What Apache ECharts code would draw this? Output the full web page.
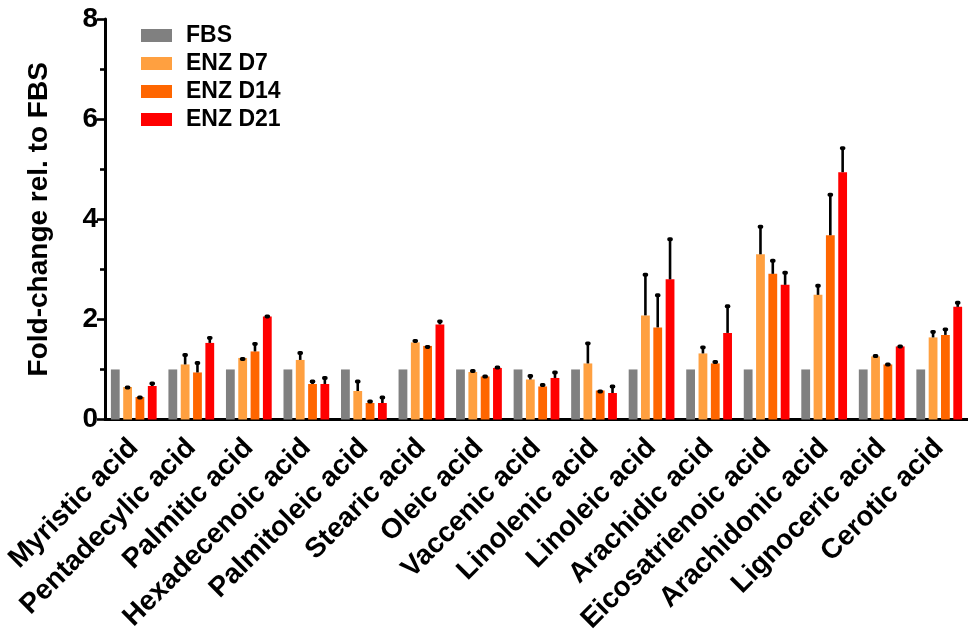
<!DOCTYPE html>
<html>
<head>
<meta charset="utf-8">
<script src="https://cdn.jsdelivr.net/npm/echarts@6/dist/echarts.min.js"></script>
<style>html,body{margin:0;padding:0;background:#fff;}#c{width:968px;height:636px;}</style>
</head>
<body>
<div id="c"></div>
<script>
var categories = ['Myristic acid','Pentadecylic acid','Palmitic acid','Hexadecenoic acid','Palmitoleic acid','Stearic acid','Oleic acid','Vaccenic acid','Linolenic acid','Linoleic acid','Arachidic acid','Eicosatrienoic acid','Arachidonic acid','Lignoceric acid','Cerotic acid'];
var seriesNames = ['FBS','ENZ D7','ENZ D14','ENZ D21'];
var fbs    = [1,1,1,1,1,1,1,1,1,1,1,1,1,1,1];
var d7     = [0.65,1.10,1.23,1.19,0.57,1.54,0.95,0.80,1.12,2.08,1.32,3.30,2.49,1.26,1.64];
var d7err  = [0.03,0.23,0.02,0.18,0.23,0.07,0.06,0.11,0.44,0.85,0.16,0.59,0.22,0.05,0.15];
var d14    = [0.45,0.94,1.36,0.71,0.33,1.47,0.86,0.66,0.58,1.84,1.12,2.91,3.68,1.10,1.69];
var d14err = [0.03,0.23,0.19,0.09,0.07,0.02,0.04,0.07,0.02,0.68,0.07,0.30,0.85,0.04,0.15];
var d21    = [0.67,1.53,2.06,0.71,0.33,1.90,1.03,0.83,0.53,2.80,1.73,2.69,4.94,1.46,2.25];
var d21err = [0.09,0.14,0.04,0.16,0.15,0.10,0.05,0.15,0.17,0.84,0.57,0.28,0.52,0.04,0.12];
var yTicks = [0,2,4,6,8];

var colors = ['#808080','#FFA040','#FF6600','#FF0000'];
var FONT = '"Liberation Sans", Arial, Helvetica, sans-serif';
var BAR_W = 8.8, GAP = 0.4;
var PITCH = BAR_W * (1 + GAP);

function errSeries(means, errs, pos) {
  var data = means.map(function (m, i) { return [i, m, errs[i]]; });
  var offset = (pos - 1.5) * PITCH;
  return {
    type: 'custom',
    silent: true,
    z: 5,
    data: data,
    renderItem: function (params, api) {
      var idx = api.value(0), mean = api.value(1), err = api.value(2);
      var base = api.coord([idx, mean]);
      var top = api.coord([idx, mean + err]);
      var x = base[0] + offset;
      return {
        type: 'group',
        children: [
          { type: 'line', shape: { x1: x, y1: base[1], x2: x, y2: top[1] + 1 }, style: { stroke: '#000', lineWidth: 2.6 } },
          { type: 'rect', shape: { x: x - 2.8, y: top[1], width: 5.6, height: 4, r: 1.8 }, style: { fill: '#000' } }
        ]
      };
    }
  };
}

var chart = echarts.init(document.getElementById('c'), null, { renderer: 'canvas' });
var option = {
  animation: false,
  backgroundColor: '#fff',
  grid: { left: 105, right: -8, top: 19, bottom: 214.5, containLabel: false },
  legend: {
    orient: 'vertical',
    left: 136, top: 19,
    itemWidth: 31, itemHeight: 13, itemGap: 5,
    icon: 'rect',
    data: seriesNames,
    textStyle: { fontFamily: FONT, fontWeight: 'bold', fontSize: 23, lineHeight: 23, color: '#000', padding: [0, 0, 0, 9] }
  },
  xAxis: {
    type: 'category',
    data: categories,
    axisLine: { lineStyle: { color: '#000', width: 3 } },
    axisTick: { alignWithLabel: true, length: 8, lineStyle: { color: '#000', width: 2.6 } },
    axisLabel: { rotate: 45, interval: 0, fontFamily: FONT, fontWeight: 'bold', fontSize: 28, color: '#000', margin: 24 }
  },
  yAxis: {
    type: 'value',
    min: yTicks[0], max: yTicks[yTicks.length - 1], interval: 2,
    name: 'Fold-change rel. to FBS',
    nameLocation: 'middle',
    nameGap: 52,
    nameTextStyle: { fontFamily: FONT, fontWeight: 'bold', fontSize: 28, color: '#000' },
    axisLine: { show: true, lineStyle: { color: '#000', width: 3 } },
    axisTick: { show: true, length: 8, lineStyle: { color: '#000', width: 2.6 } },
    minorTick: { show: true, splitNumber: 2, length: 5, lineStyle: { color: '#000', width: 2.6 } },
    splitLine: { show: false },
    axisLabel: { fontFamily: FONT, fontWeight: 'bold', fontSize: 28, color: '#000', margin: 7 }
  },
  series: [
    { name: seriesNames[0], type: 'bar', data: fbs, barWidth: BAR_W, barGap: (GAP * 100) + '%', itemStyle: { color: colors[0] } },
    { name: seriesNames[1], type: 'bar', data: d7, barWidth: BAR_W, barGap: (GAP * 100) + '%', itemStyle: { color: colors[1] } },
    { name: seriesNames[2], type: 'bar', data: d14, barWidth: BAR_W, barGap: (GAP * 100) + '%', itemStyle: { color: colors[2] } },
    { name: seriesNames[3], type: 'bar', data: d21, barWidth: BAR_W, barGap: (GAP * 100) + '%', itemStyle: { color: colors[3] } },
    errSeries(d7, d7err, 1),
    errSeries(d14, d14err, 2),
    errSeries(d21, d21err, 3)
  ]
};
chart.setOption(option);
</script>
</body>
</html>
